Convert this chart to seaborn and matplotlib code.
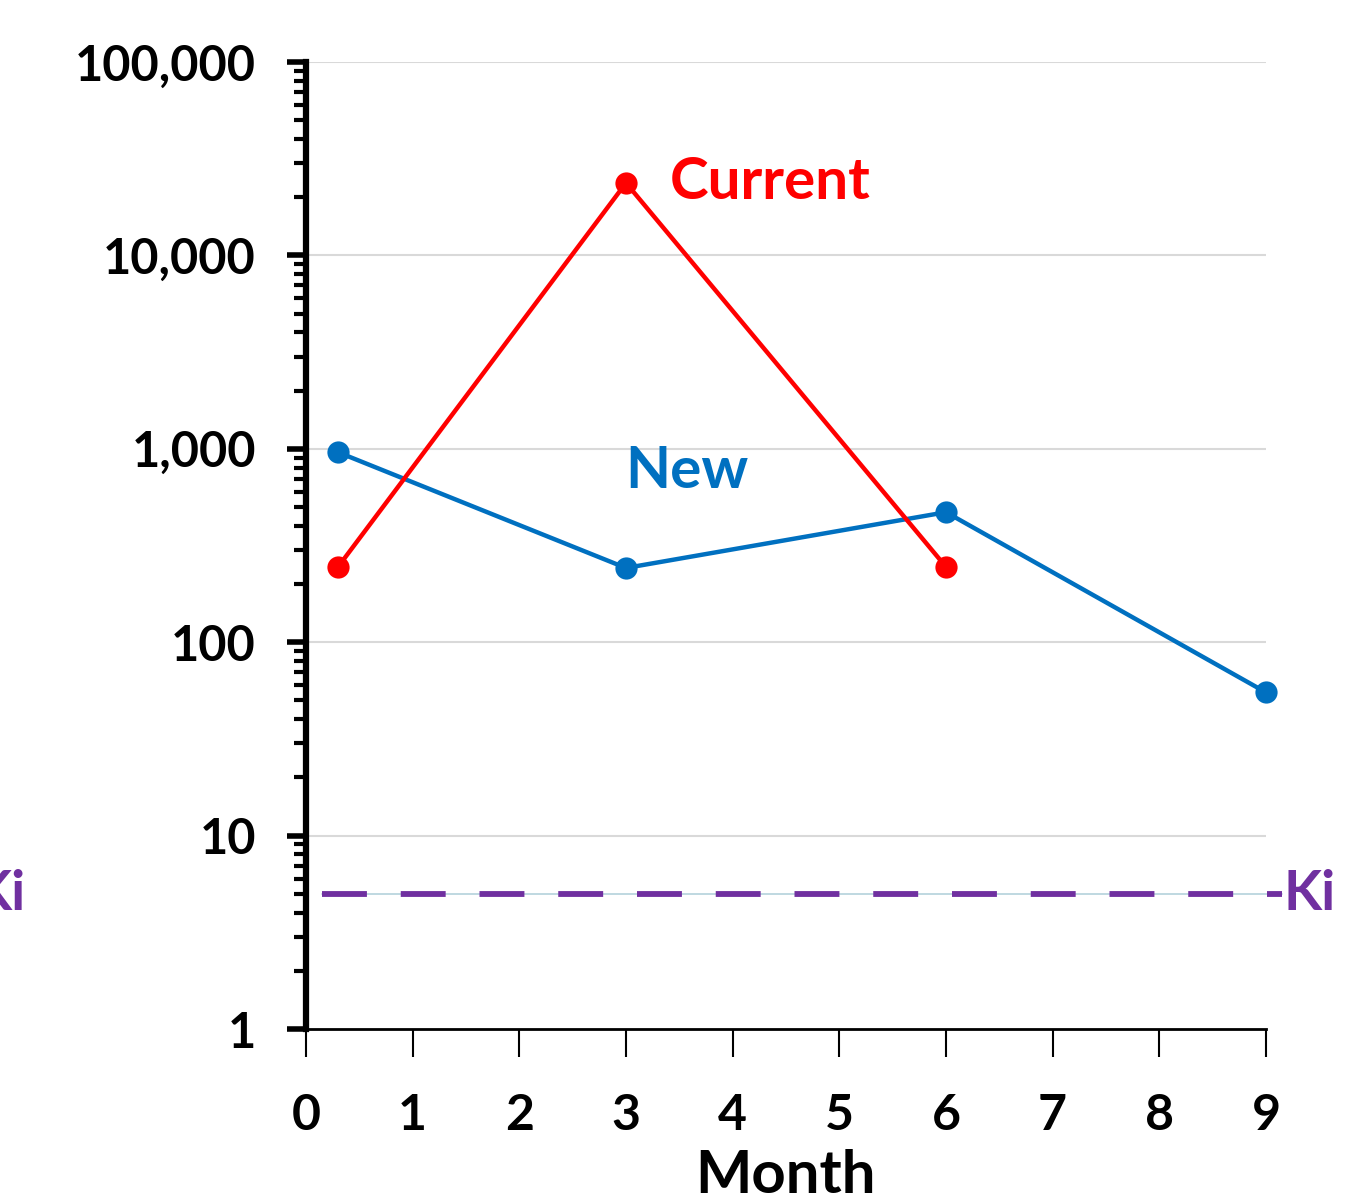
import matplotlib
matplotlib.use("Agg")
import matplotlib.pyplot as plt
import seaborn as sns
import pandas as pd
import numpy as np
from matplotlib.ticker import LogLocator, FuncFormatter, NullFormatter

# ---- data ----
current_month = [0.3, 3, 6]
current_value = [245, 23700, 245]
new_month = [0.3, 3, 6, 9]
new_value = [960, 242, 470, 55]
ki_value = 5
ki_span = [0.15, 9.15]
x_ticks = [0, 1, 2, 3, 4, 5, 6, 7, 8, 9]
y_ticks = [1, 10, 100, 1000, 10000, 100000]

RED = "#FF0000"
BLUE = "#0070C0"
PURPLE = "#7030A0"

sns.set_style("white")
plt.rcParams['font.family'] = ['Lato', 'DejaVu Sans']
plt.rcParams['font.weight'] = 'bold'
for k in ['text.color', 'xtick.color', 'ytick.color', 'axes.labelcolor']:
    plt.rcParams[k] = 'black'

fig = plt.figure(figsize=(13.56, 12.04), dpi=100)
ax = fig.add_axes([306/1356, 1 - 1029/1204, 960/1356, (1029-62)/1204])

df_cur = pd.DataFrame({"Month": current_month, "Value": current_value})
df_new = pd.DataFrame({"Month": new_month, "Value": new_value})

ax.set_yscale("log")
for y in y_ticks[1:]:
    ax.axhline(y, color="#D9D9D9", lw=1.5, zorder=0)

# Ki line: thin light line + purple dashes
ax.plot(ki_span, [ki_value, ki_value], color="#B4D2DC", lw=1.2, zorder=1, clip_on=False)
ax.plot(ki_span, [ki_value, ki_value], color=PURPLE, lw=4.2, zorder=2,
        dashes=(7.7, 5.8), dash_capstyle="butt", clip_on=False)

sns.lineplot(data=df_new, x="Month", y="Value", ax=ax, color=BLUE, lw=3.2,
             marker="o", markersize=16, markeredgewidth=0, zorder=4, clip_on=False)
sns.lineplot(data=df_cur, x="Month", y="Value", ax=ax, color=RED, lw=3.2,
             marker="o", markersize=16, markeredgewidth=0, zorder=5, clip_on=False)

ax.set_xlim(0, 9)
ax.set_ylim(1, 100000)

ax.set_xticks(x_ticks)
ax.set_xticklabels([str(t) for t in x_ticks], fontsize=36, fontweight="bold")
ax.set_yticks(y_ticks)
ax.yaxis.set_major_formatter(FuncFormatter(lambda v, p: f"{int(round(v)):,}"))
ax.yaxis.set_minor_locator(LogLocator(base=10, subs=np.arange(2, 10), numticks=20))
ax.yaxis.set_minor_formatter(NullFormatter())
for lab in ax.get_yticklabels():
    lab.set_fontsize(35)
    lab.set_fontweight("bold")

ax.tick_params(axis="y", which="major", direction="out", length=14, width=4, pad=22, left=True)
ax.tick_params(axis="y", which="minor", direction="out", length=9, width=3, left=True)
ax.tick_params(axis="x", which="major", direction="out", length=20, width=1.5, pad=26, bottom=True)

for s in ["top", "right"]:
    ax.spines[s].set_visible(False)
ax.spines["left"].set_linewidth(4.5)
ax.spines["left"].set_color("black")
ax.spines["bottom"].set_linewidth(2)
ax.spines["bottom"].set_color("black")

ax.set_xlabel("Month", fontsize=43, fontweight="bold", labelpad=8)
ax.set_ylabel("")

ax.text(3.41, 23700, "Current", color=RED, fontsize=42, fontweight="bold",
        ha="left", va="center")
ax.text(2.99, 760, "New", color=BLUE, fontsize=42, fontweight="bold",
        ha="left", va="center")
ax.text(9.16, ki_value, "Ki", color=PURPLE, fontsize=40, fontweight="bold",
        ha="left", va="center", clip_on=False)
ax.text(-2.63, ki_value, "Ki", color=PURPLE, fontsize=40, fontweight="bold",
        ha="right", va="center", clip_on=False)

fig.savefig("out.png", dpi=100)
